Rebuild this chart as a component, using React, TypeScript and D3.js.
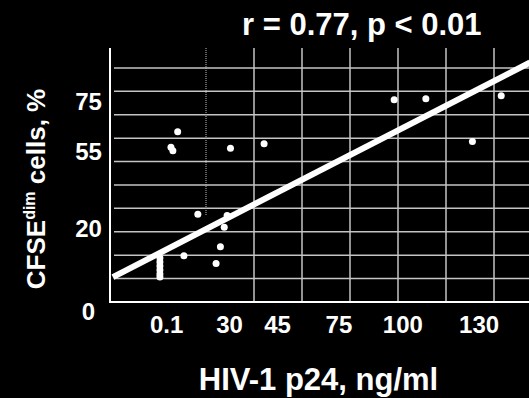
import React, { useEffect, useRef } from "react";
import * as d3 from "d3";

const WIDTH = 529;
const HEIGHT = 398;
const MARGIN = { top: 48, right: 0, bottom: 96, left: 110 };

// positions are in grid units (one unit per grid cell)
const xGridLines = [3, 4, 5, 6, 7, 8];
const yGridLines = [1, 2, 3, 4, 5, 6, 7, 8, 9, 10];

const xTickLabels = ["0.1", "30", "45", "75", "100", "130"];
const xTickPos = [1.18, 2.49, 3.49, 4.77, 6.1, 7.69];

const yTickLabels = ["0", "20", "55", "75"];
const yTickPos = [-0.4, 3.13, 6.42, 8.58];

const pointX = [
  1.41, 1.27, 1.31, 2.51, 3.21, 1.83, 2.44, 2.38, 2.3, 1.54, 2.21,
  1.04, 1.04, 1.04, 1.04, 1.04, 1.04, 5.92, 6.58, 8.15, 7.55,
];
const pointY = [
  7.27, 6.61, 6.46, 6.57, 6.76, 3.75, 3.7, 3.19, 2.36, 1.98, 1.64,
  1.88, 1.71, 1.54, 1.37, 1.2, 1.07, 8.64, 8.68, 8.81, 6.86,
];

// fitted line y = a + b * x
const FIT = { a: 1.0, b: 1.055, from: 0.06, to: 8.75 };

export const ScatterChart = () => {
  const ref = useRef(null);
  const boundsWidth = WIDTH - MARGIN.left - MARGIN.right;
  const boundsHeight = HEIGHT - MARGIN.top - MARGIN.bottom;

  useEffect(() => {
    document.body.style.margin = "0";
    document.body.style.background = "#000";
    const svg = d3.select(ref.current);
    svg.selectAll("*").remove();

    const xScale = d3.scaleLinear().domain([0, 8.729]).range([0, boundsWidth]);
    const yScale = d3.scaleLinear().domain([0, 10.85]).range([boundsHeight, 0]);

    const g = svg
      .append("g")
      .attr("transform", `translate(${MARGIN.left},${MARGIN.top})`);

    // horizontal grid
    g.selectAll(".hgrid")
      .data(yGridLines)
      .enter()
      .append("line")
      .attr("x1", 4)
      .attr("x2", boundsWidth)
      .attr("y1", (d) => yScale(d))
      .attr("y2", (d) => yScale(d))
      .attr("stroke", "#c4c4c4")
      .attr("stroke-width", 1.5);

    // vertical grid
    g.selectAll(".vgrid")
      .data(xGridLines)
      .enter()
      .append("line")
      .attr("x1", (d) => xScale(d))
      .attr("x2", (d) => xScale(d))
      .attr("y1", 0)
      .attr("y2", boundsHeight)
      .attr("stroke", "#c4c4c4")
      .attr("stroke-width", 1.5);

    // partial dotted line near 30
    g.append("line")
      .attr("x1", xScale(2))
      .attr("x2", xScale(2))
      .attr("y1", 0)
      .attr("y2", yScale(3.7))
      .attr("stroke", "#bbbbbb")
      .attr("stroke-width", 1)
      .attr("stroke-dasharray", "1,1");

    // axes
    g.append("line")
      .attr("x1", 0)
      .attr("x2", 0)
      .attr("y1", 0)
      .attr("y2", boundsHeight + 1)
      .attr("stroke", "#fff")
      .attr("stroke-width", 2);
    g.append("line")
      .attr("x1", -1)
      .attr("x2", boundsWidth)
      .attr("y1", boundsHeight)
      .attr("y2", boundsHeight)
      .attr("stroke", "#fff")
      .attr("stroke-width", 2);

    // points
    g.selectAll(".pt")
      .data(pointX.map((x, i) => ({ x, y: pointY[i] })))
      .enter()
      .append("circle")
      .attr("cx", (d) => xScale(d.x))
      .attr("cy", (d) => yScale(d.y))
      .attr("r", 3.5)
      .attr("fill", "#fff");

    // regression line
    g.append("line")
      .attr("x1", xScale(FIT.from))
      .attr("y1", yScale(FIT.a + FIT.b * FIT.from))
      .attr("x2", xScale(FIT.to))
      .attr("y2", yScale(FIT.a + FIT.b * FIT.to))
      .attr("stroke", "#fff")
      .attr("stroke-width", 6);

    const font = "'Liberation Sans', Arial, sans-serif";

    // x tick labels
    g.selectAll(".xt")
      .data(xTickLabels)
      .enter()
      .append("text")
      .attr("x", (d, i) => xScale(xTickPos[i]))
      .attr("y", boundsHeight + 31)
      .attr("text-anchor", "middle")
      .attr("font-family", font)
      .attr("font-weight", "bold")
      .attr("font-size", 24)
      .attr("fill", "#fff")
      .text((d) => d);

    // y tick labels
    g.selectAll(".yt")
      .data(yTickLabels)
      .enter()
      .append("text")
      .attr("x", -21.5)
      .attr("y", (d, i) => yScale(yTickPos[i]) + 8.5)
      .attr("text-anchor", "middle")
      .attr("font-family", font)
      .attr("font-weight", "bold")
      .attr("font-size", 24)
      .attr("fill", "#fff")
      .text((d) => d);

    // title
    svg
      .append("text")
      .attr("x", 242)
      .attr("y", 35)
      .attr("font-family", font)
      .attr("font-weight", "bold")
      .attr("font-size", 31)
      .attr("fill", "#fff")
      .text("r = 0.77, p < 0.01");

    // x axis label
    svg
      .append("text")
      .attr("x", 318.5)
      .attr("y", 390)
      .attr("text-anchor", "middle")
      .attr("font-family", font)
      .attr("font-weight", "bold")
      .attr("font-size", 31)
      .attr("fill", "#fff")
      .text("HIV-1 p24, ng/ml");

    // y axis label
    const yl = svg
      .append("text")
      .attr("transform", "translate(45,189) rotate(-90)")
      .attr("text-anchor", "middle")
      .attr("font-family", font)
      .attr("font-weight", "bold")
      .attr("font-size", 26)
      .attr("fill", "#fff");
    yl.append("tspan").text("CFSE");
    yl.append("tspan").attr("font-size", 16).attr("dy", -10).text("dim");
    yl.append("tspan").attr("dy", 10).text(" cells, %");

    return () => {
      svg.selectAll("*").remove();
    };
  }, [boundsWidth, boundsHeight]);

  return (
    <svg
      width={WIDTH}
      height={HEIGHT}
      style={{ display: "block", background: "#000" }}
      ref={ref}
    />
  );
};

export default function App() {
  return <ScatterChart />;
}
